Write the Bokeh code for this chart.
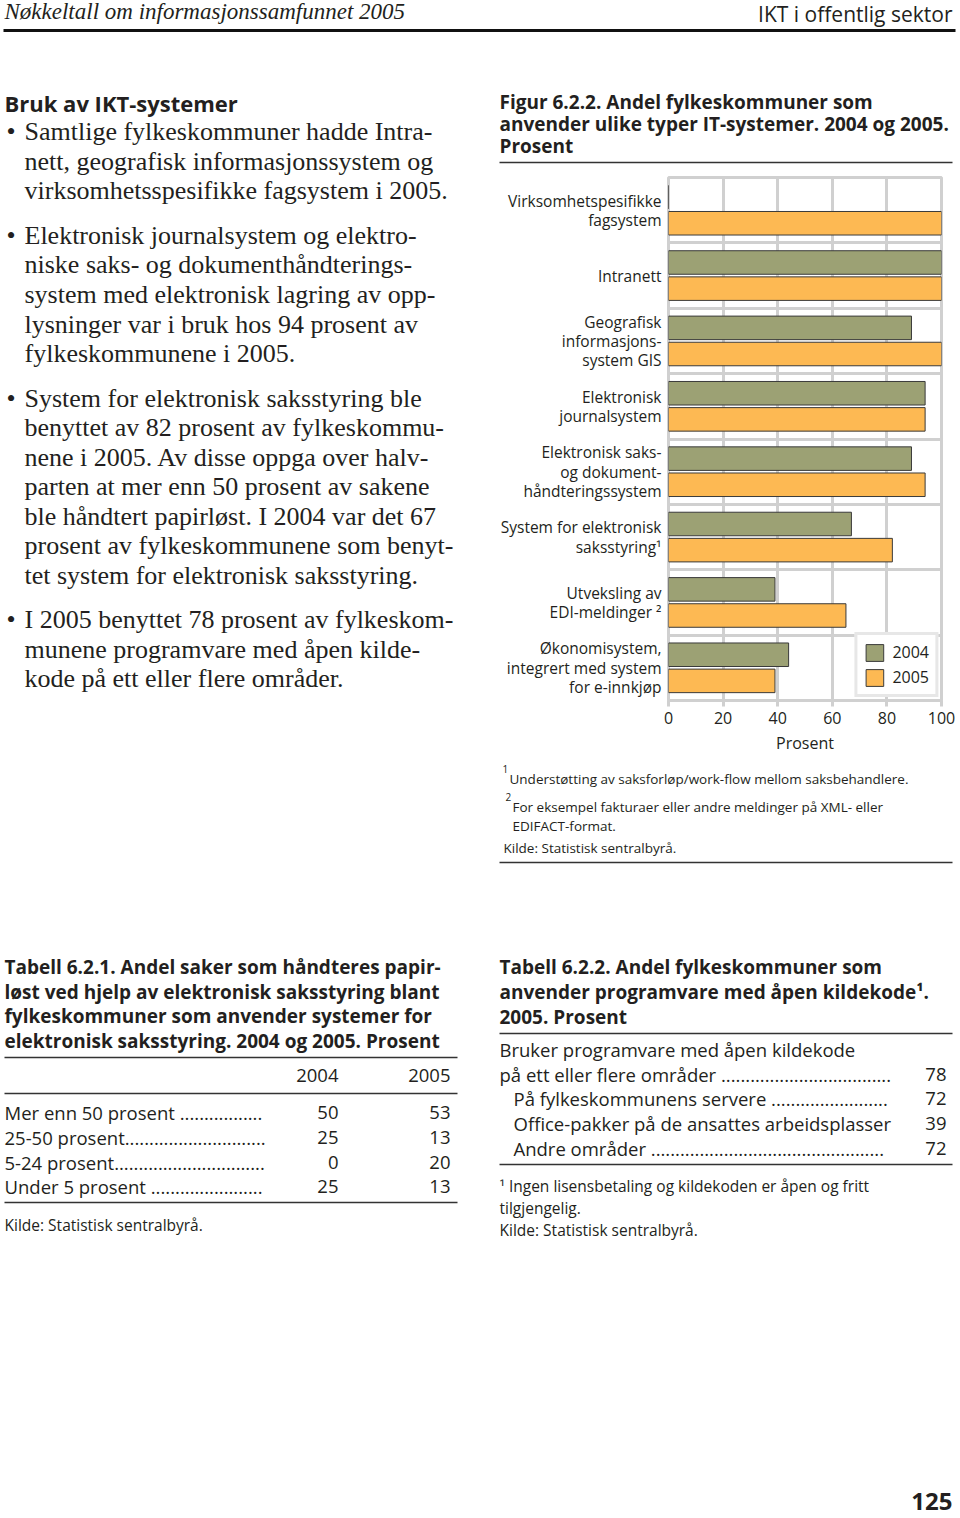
from bokeh.plotting import figure
from bokeh.models import Range1d, FixedTicker, ColumnDataSource, Legend, LegendItem
from bokeh.layouts import column, row
from bokeh.embed import file_html
from bokeh.resources import INLINE
from bokeh.core.properties import value
from bokeh.transform import dodge

# ---------------- data ----------------
category_labels = [
    "Virksomhetspesifikke\nfagsystem",
    "Intranett",
    "Geografisk\ninformasjons-\nsystem GIS",
    "Elektronisk\njournalsystem",
    "Elektronisk saks-\nog dokument-\nhåndteringssystem",
    "System for elektronisk\nsaksstyring¹",
    "Utveksling av\nEDI-meldinger ²",
    "Økonomisystem,\nintegrert med system\nfor e-innkjøp",
]
values_2004 = [0, 100, 89, 94, 89, 67, 39, 44]
values_2005 = [100, 100, 100, 94, 94, 82, 65, 39]
years = ["2004", "2005"]
x_ticks = [0, 20, 40, 60, 80, 100]

t1_labels = ["Mer enn 50 prosent", "25-50 prosent", "5-24 prosent", "Under 5 prosent"]
t1_2004 = [50, 25, 0, 25]
t1_2005 = [53, 13, 20, 13]

t2_labels = ["på ett eller flere områder", "På fylkeskommunens servere",
             "Office-pakker på de ansattes arbeidsplasser", "Andre områder"]
t2_values = [78, 72, 39, 72]

body_lines = [
    ("•", "Samtlige fylkeskommuner hadde Intra-"),
    ("", "nett, geografisk informasjonssystem og"),
    ("", "virksomhetsspesifikke fagsystem i 2005."),
    ("•", "Elektronisk journalsystem og elektro-"),
    ("", "niske saks- og dokumenthåndterings-"),
    ("", "system med elektronisk lagring av opp-"),
    ("", "lysninger var i bruk hos 94 prosent av"),
    ("", "fylkeskommunene i 2005."),
    ("•", "System for elektronisk saksstyring ble"),
    ("", "benyttet av 82 prosent av fylkeskommu-"),
    ("", "nene i 2005. Av disse oppga over halv-"),
    ("", "parten at mer enn 50 prosent av sakene"),
    ("", "ble håndtert papirløst. I 2004 var det 67"),
    ("", "prosent av fylkeskommunene som benyt-"),
    ("", "tet system for elektronisk saksstyring."),
    ("•", "I 2005 benyttet 78 prosent av fylkeskom-"),
    ("", "munene programvare med åpen kilde-"),
    ("", "kode på ett eller flere områder."),
]
body_mid = [131, 161, 190, 235, 264, 294, 324, 353, 398, 427, 457, 486, 516, 545, 575, 619, 649, 678]

GREEN = "#9ca174"
ORANGE = "#fdb953"
INK = "#231f20"
GRID = "#d0d0d0"
SANS = "Open Sans"
SERIF = "Liberation Serif"
SPLIT = 176  # screen y where the top text band ends


def canvas(x0, y0, w, h, top=0, bottom=0):
    fh = h - top - bottom
    p = figure(width=w, height=h, x_range=Range1d(x0, x0 + w),
               y_range=Range1d(y0 + top + fh, y0 + top),
               output_backend="svg", toolbar_location=None,
               min_border_left=0, min_border_right=0, min_border_top=top, min_border_bottom=bottom,
               x_axis_location=None, y_axis_location=None)
    p.grid.visible = False
    p.outline_line_color = None
    p.title.visible = False
    p.background_fill_color = "white"
    p.border_fill_color = "white"
    return p


def txt(p, xs, ys, texts, size, font=SANS, style="normal", align="left", color=INK, baseline="middle"):
    p.text(x=xs, y=ys, text=texts, text_font=value(font), text_font_size=size,
           text_font_style=style, text_align=align, text_baseline=baseline, text_color=color)


def rule(p, x0, x1, y, w=1.5, color="#333333"):
    p.segment(x0=[x0], y0=[y], x1=[x1], y1=[y], line_width=w, line_color=color)


def body(p, lo, hi):
    sel = [(b, t, y) for (b, t), y in zip(body_lines, body_mid) if lo <= y < hi]
    bl = [y for b, t, y in sel if b]
    if bl:
        txt(p, [6] * len(bl), bl, ["•"] * len(bl), "26px", font=SERIF)
    txt(p, [24] * len(sel), [y for b, t, y in sel], [t for b, t, y in sel], "26px", font=SERIF)


# ---------------- TOP band ----------------
TOP = canvas(0, 0, 960, SPLIT)
txt(TOP, [4], [11], ["Nøkkeltall om informasjonssamfunnet 2005"], "23px", font=SERIF, style="italic")
txt(TOP, [952], [13.5], ["IKT i offentlig sektor"], "21px", align="right")
rule(TOP, 3, 955, 30, w=3, color="#111111")
txt(TOP, [4], [102], ["Bruk av IKT-systemer"], "22px", style="bold")
body(TOP, 0, SPLIT)
txt(TOP, [499, 499, 499], [101, 123, 145],
    ["Figur 6.2.2. Andel fylkeskommuner som",
     "anvender ulike typer IT-systemer. 2004 og 2005.",
     "Prosent"], "19px", style="bold")
rule(TOP, 499, 952, 162, w=1.5)

# ---------------- MID: body text + chart ----------------
MID_H = 760 - SPLIT
A = canvas(0, SPLIT, 490, MID_H, top=1, bottom=60)
body(A, SPLIT, 760)

n = len(category_labels)
centers = [n - i - 0.5 for i in range(n)]
src = ColumnDataSource(dict(y=centers, v04=values_2004, v05=values_2005))

C = figure(width=470, height=MID_H, x_range=Range1d(0, 100), y_range=Range1d(0, n),
           output_backend="svg", toolbar_location=None,
           min_border_left=178, min_border_right=19, min_border_top=1, min_border_bottom=60)
C.title.visible = False
C.outline_line_color = GRID
C.outline_line_width = 3
C.xgrid.ticker = FixedTicker(ticks=x_ticks[1:-1])
C.ygrid.ticker = FixedTicker(ticks=list(range(1, n)))
C.grid.grid_line_color = GRID
C.grid.grid_line_width = 3

r04 = C.hbar(y=dodge("y", 0.2), left=0, right="v04", height=0.36, source=src,
             fill_color=GREEN, line_color="#3a3a3a", line_width=1)
r05 = C.hbar(y=dodge("y", -0.2), left=0, right="v05", height=0.36, source=src,
             fill_color=ORANGE, line_color="#3a3a3a", line_width=1)

ax = C.xaxis[0]
ax.ticker = FixedTicker(ticks=x_ticks)
ax.axis_line_color = None
ax.major_tick_line_color = GRID
ax.major_tick_line_width = 3
ax.major_tick_out = 6
ax.major_tick_in = 0
ax.minor_tick_line_color = None
ax.major_label_text_font = SANS
ax.major_label_text_font_size = "16px"
ax.major_label_text_color = INK
ax.major_label_standoff = 5
ax.axis_label = "Prosent"
ax.axis_label_text_font = SANS
ax.axis_label_text_font_size = "16px"
ax.axis_label_text_font_style = "normal"
ax.axis_label_text_color = INK
ax.axis_label_standoff = 5

ay = C.yaxis[0]
ay.ticker = FixedTicker(ticks=centers)
ay.major_label_overrides = {c: lab for c, lab in zip(centers, category_labels)}
ay.axis_line_color = None
ay.major_tick_line_color = None
ay.minor_tick_line_color = None
ay.major_tick_out = 0
ay.major_tick_in = 0
ay.major_label_standoff = 7
ay.major_label_text_font = SANS
ay.major_label_text_font_size = "15.5px"
ay.major_label_text_color = INK
ay.major_label_text_line_height = 0.88

legend = Legend(items=[LegendItem(label=years[0], renderers=[r04]),
                       LegendItem(label=years[1], renderers=[r05])],
                location="bottom_right")
legend.border_line_color = GRID
legend.border_line_width = 3
legend.background_fill_color = "white"
legend.background_fill_alpha = 1
legend.margin = 3
legend.padding = 6
legend.spacing = 3
legend.glyph_width = 22
legend.glyph_height = 21
legend.label_height = 21
legend.label_standoff = 7
legend.label_text_font = SANS
legend.label_text_font_size = "16px"
legend.label_text_color = INK
C.add_layout(legend)

# ---------------- BOTTOM band ----------------
BOT_H = 758
E = canvas(0, 760, 960, BOT_H)
# figure footnotes
txt(E, [502, 505], [768, 796], ["1", "2"], "10px")
txt(E, [509, 512, 512, 503], [778, 806, 825, 847],
    ["Understøtting av saksforløp/work-flow mellom saksbehandlere.",
     "For eksempel fakturaer eller andre meldinger på XML- eller",
     "EDIFACT-format.",
     "Kilde: Statistisk sentralbyrå."], "13.5px")
rule(E, 499, 952, 862, w=1.5)

# Table 1
txt(E, [4] * 4, [966, 991, 1015, 1040],
    ["Tabell 6.2.1. Andel saker som håndteres papir-",
     "løst ved hjelp av elektronisk saksstyring blant",
     "fylkeskommuner som anvender systemer for",
     "elektronisk saksstyring. 2004 og 2005. Prosent"], "19px", style="bold")
rule(E, 4, 457, 1057)
txt(E, [338, 450], [1075, 1075], years, "18.5px", align="right")
rule(E, 4, 457, 1093)
t1_y = [1112, 1137, 1162, 1186]
t1_lead = [" " + "." * 17, "." * 29, "." * 31, " " + "." * 23]
txt(E, [4] * 4, t1_y, [l + d for l, d in zip(t1_labels, t1_lead)], "18.5px")
txt(E, [338] * 4, t1_y, [str(v) for v in t1_2004], "18.5px", align="right")
txt(E, [450] * 4, t1_y, [str(v) for v in t1_2005], "18.5px", align="right")
rule(E, 4, 457, 1202)
txt(E, [4], [1224], ["Kilde: Statistisk sentralbyrå."], "15.5px")

# Table 2
txt(E, [499] * 3, [966, 991, 1016],
    ["Tabell 6.2.2. Andel fylkeskommuner som",
     "anvender programvare med åpen kildekode¹.",
     "2005. Prosent"], "19px", style="bold")
rule(E, 499, 952, 1033)
txt(E, [499], [1049], ["Bruker programvare med åpen kildekode"], "18.5px")
t2_y = [1074, 1098, 1123, 1148]
t2_x = [499, 513, 513, 513]
t2_lead = [" " + "." * 35, " " + "." * 24, "", " " + "." * 48]
txt(E, t2_x, t2_y, [l + d for l, d in zip(t2_labels, t2_lead)], "18.5px")
txt(E, [946] * 4, t2_y, [str(v) for v in t2_values], "18.5px", align="right")
rule(E, 499, 952, 1164)
txt(E, [499, 499, 499], [1185, 1207, 1229],
    ["¹ Ingen lisensbetaling og kildekoden er åpen og fritt",
     "tilgjengelig.",
     "Kilde: Statistisk sentralbyrå."], "15.5px")

txt(E, [952], [1501], ["125"], "24px", style="bold", align="right")

page = column(TOP, row(A, C), E)
open("out.html", "w").write(file_html(page, INLINE))
